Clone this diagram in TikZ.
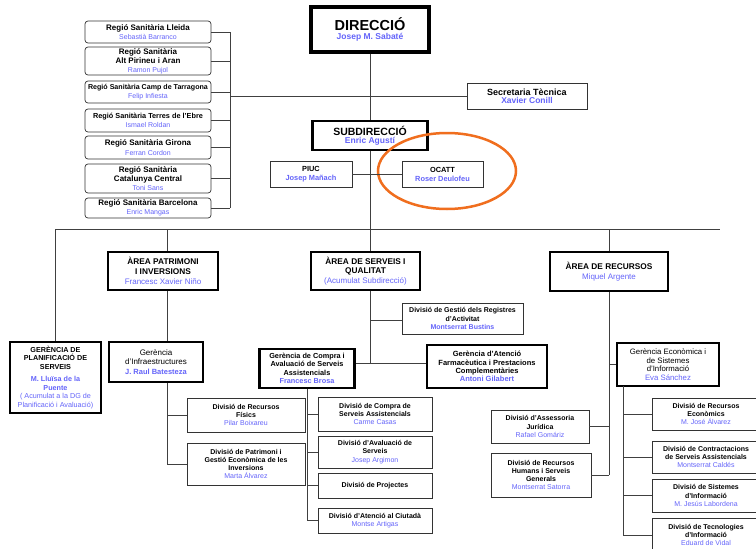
\documentclass[tikz,border=0pt]{standalone}
\usepackage{fontspec}
\setmainfont{Liberation Sans}
\usetikzlibrary{shapes.geometric}
\definecolor{nameblue}{RGB}{100,100,250}
\definecolor{ocirc}{RGB}{240,110,30}
\newcommand\fz[2]{\fontsize{#1}{#2}\selectfont}
\newcommand\nm[1]{{\color{nameblue}#1}}
\newcommand\nmb[1]{{\color{nameblue}\bfseries #1}}
\tikzset{
  box/.style={draw=black!80, line width=0.7pt, fill=white, align=center, inner sep=0.5pt, text=black, font=\fz{7}{8.3}},
  tbox/.style={box, draw=black, line width=2.5pt},
  rbox/.style={box, rounded corners=3pt, font=\fz{8}{9.3}},
  abox/.style={tbox, font=\fz{8.3}{9.7}},
  conn/.style={draw=black!75, line width=0.8pt},
}
\begin{document}
\begin{tikzpicture}[x=1pt,y=-1pt]
\useasboundingbox[fill=white] (0,0) rectangle (756,549);

% ---------- top ----------
\node[tbox, line width=3.5pt, minimum width=118, minimum height=45] (dir) at (370,29.5)
  {\fz{14.5}{12}\textbf{DIRECCIÓ}\\\nmb{\fz{8.5}{12}Josep M. Sabaté}};
\node[box, line width=0.9pt, minimum width=120, minimum height=26] (sec) at (527,96)
  {\fz{9}{9.3}\textbf{Secretaria Tècnica}\\\nmb{\fz{8.5}{9.3}Xavier Conill}};
\node[tbox, minimum width=115, minimum height=29] (sub) at (370,135.5)
  {\fz{10.5}{10.5}\textbf{SUBDIRECCIÓ}\\\nmb{\fz{8.5}{10.5}Enric Agustí}};
\node[box, minimum width=82, minimum height=26, font=\fz{7.4}{9}] (piuc) at (311,174)
  {\textbf{PIUC}\\\nmb{Josep Mañach}};
\node[box, minimum width=81, minimum height=26, font=\fz{7.4}{9}] (ocatt) at (442.5,174)
  {\textbf{OCATT}\\\nmb{Roser Deulofeu}};
\node[draw=ocirc, line width=2.5pt, ellipse, minimum width=138, minimum height=76, inner sep=0pt] (ring) at (447,171) {};

% ---------- regions ----------
\node[rbox, minimum width=126, minimum height=22] (lle) at (148,32)
  {\textbf{Regió Sanitària Lleida}\\\nm{\fz{7}{9.3}Sebastià Barranco}};
\node[rbox, minimum width=126, minimum height=28, font=\fz{8}{9}] (alt) at (148,61)
  {\textbf{Regió Sanitària}\\\textbf{Alt Pirineu i Aran}\\\nm{\fz{7}{9}Ramon Pujol}};
\node[rbox, minimum width=126, minimum height=22, font=\fz{7.1}{9.3}] (camp) at (148,92)
  {\textbf{Regió Sanitària Camp de Tarragona}\\\nm{\fz{7}{9.3}Felip Infiesta}};
\node[rbox, minimum width=126, minimum height=23, font=\fz{7.3}{9.3}] (ebre) at (148,120.5)
  {\textbf{Regió Sanitària Terres de l'Ebre}\\\nm{\fz{7}{9.3}Ismael Roldan}};
\node[rbox, minimum width=126, minimum height=23] (gir) at (148,147.5)
  {\textbf{Regió Sanitària Girona}\\\nm{\fz{7}{9.3}Ferran Cordon}};
\node[rbox, minimum width=126, minimum height=29, font=\fz{8}{9}] (catc) at (148,178.5)
  {\textbf{Regió Sanitària}\\\textbf{Catalunya Central}\\\nm{\fz{7}{9}Toni Sans}};
\node[rbox, minimum width=126, minimum height=20] (bcn) at (148,208)
  {\textbf{Regió Sanitària Barcelona}\\\nm{\fz{7}{9.3}Enric Mangas}};

\coordinate (rb) at (230,96);
\coordinate (hl) at (55,229);
\coordinate (hr) at (720,229);
\coordinate (px) at (167,229);
\coordinate (sx) at (370,229);

% ---------- areas ----------
\node[abox, minimum width=110, minimum height=38] (ap) at (163,271)
  {\textbf{ÀREA PATRIMONI}\\\textbf{I INVERSIONS}\\\nm{\fz{8}{9.7}Francesc Xavier Niño}};
\node[abox, minimum width=109, minimum height=38] (as) at (365.5,271)
  {\textbf{ÀREA DE SERVEIS I}\\\textbf{QUALITAT}\\\nm{\fz{8}{9.7}(Acumulat Subdirecció)}};
\node[abox, minimum width=118, minimum height=39] (ar) at (609,271.5)
  {\textbf{ÀREA DE RECURSOS}\\\nm{\fz{8}{9.7}Miquel Argente}};

% ---------- left branch ----------
\node[tbox, minimum width=91, minimum height=71, font=\fz{7.2}{8.5}] (gp) at (55.5,377.5)
  {\textbf{GERÈNCIA DE}\\\textbf{PLANIFICACIÓ DE}\\\textbf{SERVEIS}\\[4pt]\nmb{M. Lluïsa de la}\\\nmb{Puente}\\\nm{( Acumulat a la DG de}\\\nm{Planificació i Avaluació)}};
\node[tbox, minimum width=94, minimum height=40, font=\fz{8}{9.3}] (gi) at (156,362)
  {Gerència\\d'Infraestructures\\\nmb{\fz{7.5}{9.3}J. Raul Batesteza}};
\node[box, minimum width=118, minimum height=34] (drf) at (246,415)
  {\textbf{Divisió de Recursos}\\\textbf{Físics}\\\nm{Pilar Boixareu}};
\node[box, minimum width=118, minimum height=42] (dpat) at (246,464)
  {\textbf{Divisió de Patrimoni i}\\\textbf{Gestió Econòmica de les}\\\textbf{Inversions}\\\nm{Marta Álvarez}};

% ---------- centre branch ----------
\node[box, minimum width=121, minimum height=31] (dgr) at (462.5,318.5)
  {\textbf{Divisió de Gestió dels Registres}\\\textbf{d'Activitat}\\\nmb{Montserrat Bustins}};
\node[tbox, minimum width=95, minimum height=39, font=\fz{7.3}{8.3}] (gc) at (307,368.5)
  {\textbf{Gerència de Compra i}\\\textbf{Avaluació de Serveis}\\\textbf{Assistencials}\\\nmb{Francesc Brosa}};
\node[tbox, minimum width=120, minimum height=43, font=\fz{7.5}{8.3}] (gf) at (487,366.5)
  {\textbf{Gerència d'Atenció}\\\textbf{Farmacèutica i Prestacions}\\\textbf{Complementàries}\\\nmb{Antoni Gilabert}};
\node[box, minimum width=114, minimum height=34] (dcs) at (375,414)
  {\textbf{Divisió de Compra de}\\\textbf{Serveis Assistencials}\\\nm{Carme Casas}};
\node[box, minimum width=114, minimum height=32] (dav) at (375,452)
  {\textbf{Divisió d'Avaluació de}\\\textbf{Serveis}\\\nm{Josep Argimon}};
\node[box, minimum width=114, minimum height=25] (dpr) at (375,485.5)
  {\textbf{Divisió de Projectes}};
\node[box, minimum width=114, minimum height=25] (dac) at (375,520.5)
  {\textbf{Divisió d'Atenció al Ciutadà}\\\nm{Montse Artigas}};

% ---------- right branch ----------
\node[tbox, minimum width=102, minimum height=43, font=\fz{7.8}{8.5}] (ge) at (668,364.5)
  {Gerència Econòmica i\\de Sistemes\\d'Informació\\\nm{Eva Sánchez}};
\node[box, minimum width=98, minimum height=33] (daj) at (540,426.5)
  {\textbf{Divisió d'Assessoria}\\\textbf{Jurídica}\\\nm{Rafael Gomáriz}};
\node[box, minimum width=100, minimum height=44] (drh) at (541,475)
  {\textbf{Divisió de Recursos}\\\textbf{Humans i Serveis}\\\textbf{Generals}\\\nm{Montserrat Satorra}};
\node[box, minimum width=108, minimum height=32] (dre) at (706,414)
  {\textbf{Divisió de Recursos}\\\textbf{Econòmics}\\\nm{M. José Álvarez}};
\node[box, minimum width=108, minimum height=32] (dcont) at (706,457)
  {\textbf{Divisió de Contractacions}\\\textbf{de Serveis Assistencials}\\\nm{Montserrat Caldés}};
\node[box, minimum width=108, minimum height=33] (dsi) at (706,495.5)
  {\textbf{Divisió de Sistemes}\\\textbf{d'Informació}\\\nm{M. Jesús Labordena}};
\node[box, minimum width=108, minimum height=34] (dti) at (706,535)
  {\textbf{Divisió de Tecnologies}\\\textbf{d'Informació}\\\nm{Eduard de Vidal}};

% ---------- connectors ----------
\draw[conn] (dir.south) -- (sub.north);
\draw[conn] (rb) -- (sec.west);
\draw[conn] (rb |- lle.east) -- (rb |- bcn.east);
\foreach \n in {lle,alt,camp,ebre,gir,catc,bcn} \draw[conn] (\n.east) -- (\n.east -| rb);
\draw[conn] (piuc.east) -- (ocatt.west);
\draw[conn] (sub.south) -- (sx |- as.north);
\draw[conn] (hl) -- (hr);
\draw[conn] (hl) -- (hl |- gp.north);
\draw[conn] (px) -- (px |- ap.north);
\draw[conn] (px |- ap.south) -- (px |- gi.north);
\draw[conn] (px |- gi.south) -- (px |- dpat.west);
\draw[conn] (drf.west) -- (drf.west -| px);
\draw[conn] (dpat.west) -- (dpat.west -| px);
\coordinate (sreg) at (370,320);
\coordinate (sger) at (370,363);
\draw[conn] (sx |- as.south) -- (sger);
\draw[conn] (sreg) -- (sreg -| dgr.west);
\draw[conn] (sger -| gc.east) -- (sger -| gf.west);
\draw[conn] (gc.south) -- (gc.south |- dac.west);
\foreach \n in {dcs,dav,dpr,dac} \draw[conn] (\n.west) -- (\n.west -| gc.south);
\draw[conn] (hr -| ar.north) -- (ar.north);
\draw[conn] (ar.south) -- (ar.south |- drh.east);
\draw[conn] (ge.west) -- (ge.west -| ar.south);
\draw[conn] (daj.east) -- (daj.east -| ar.south);
\draw[conn] (drh.east) -- (drh.east -| ar.south);
\coordinate (gx) at (623,386);
\draw[conn] (gx) -- (gx |- dti.west);
\foreach \n in {dre,dcont,dsi,dti} \draw[conn] (\n.west) -- (\n.west -| gx);
\end{tikzpicture}
\end{document}
